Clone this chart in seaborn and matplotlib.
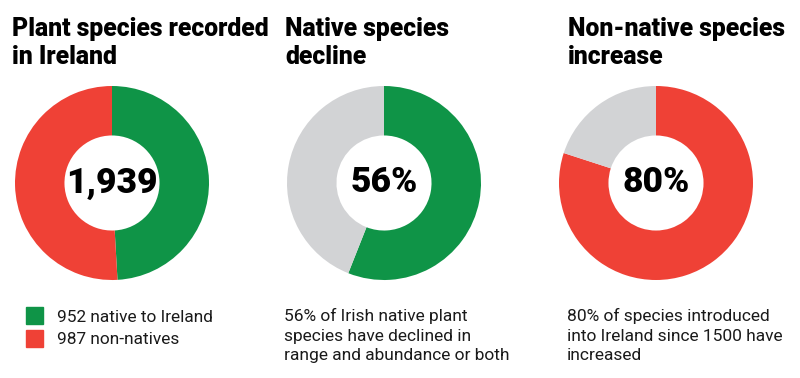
"""Irish plant species donut charts."""

import matplotlib.pyplot as plt
import seaborn as sns

sns.set_theme(style='white')
plt.rcParams['font.family'] = ['Roboto', 'DejaVu Sans']

GREEN = '#0f9447'
RED = '#ef4136'
GREY = '#d2d3d5'

# data
native_count = 952
nonnative_count = 987
native_declined_pct = 56
nonnative_increased_pct = 80

titles = [
    'Plant species recorded\nin Ireland',
    'Native species\ndecline',
    'Non-native species\nincrease',
]
centre_labels = [f'{native_count + nonnative_count:,}',
                 f'{native_declined_pct}%',
                 f'{nonnative_increased_pct}%']
legend_labels = [f'{native_count} native to Ireland',
                 f'{nonnative_count} non-natives']
captions = [
    '56% of Irish native plant\nspecies have declined in\nrange and abundance or both',
    '80% of species introduced\ninto Ireland since 1500 have\nincreased',
]

W, H = 800, 378
fig = plt.figure(figsize=(W / 100, H / 100), dpi=100)
fig.patch.set_facecolor('white')

donut_values = [
    [native_count, nonnative_count],
    [native_declined_pct, 100 - native_declined_pct],
    [nonnative_increased_pct, 100 - nonnative_increased_pct],
]
donut_colors = [[GREEN, RED], [GREEN, GREY], [RED, GREY]]
centres_x = [112, 384, 656]
radius_px = 97
title_x = [12, 285, 568]

for i in range(3):
    cx, cy = centres_x[i], 183
    ax = fig.add_axes([(cx - radius_px) / W, (H - cy - radius_px) / H,
                       2 * radius_px / W, 2 * radius_px / H])
    ax.pie(donut_values[i], colors=donut_colors[i], startangle=90,
           counterclock=False, radius=1,
           wedgeprops=dict(width=0.51, linewidth=0))
    ax.set_xlim(-1, 1)
    ax.set_ylim(-1, 1)
    ax.set_aspect('equal')
    ax.axis('off')
    ax.text(0, 0.0, centre_labels[i], ha='center', va='center',
            fontsize=25.5, fontweight='black', color='black')

    fig.text(title_x[i] / W, 1 - 17 / H, titles[i], ha='left', va='top',
             fontsize=17.8, fontweight='black', color='black',
             linespacing=1.22)

# legend for the first donut
for j, (lab, col) in enumerate(zip(legend_labels, [GREEN, RED])):
    y = 316 + j * 23
    fig.patches.append(plt.Rectangle((26 / W, 1 - (y + 8) / H), 17 / W, 17 / H,
                                     transform=fig.transFigure, color=col,
                                     figure=fig))
    fig.text(57 / W, 1 - (y + 1) / H, lab, ha='left', va='center',
             fontsize=12.4, color='#1a1a1a')

for x, cap in zip([284, 567], captions):
    fig.text(x / W, 1 - 308 / H, cap, ha='left', va='top',
             fontsize=12.5, color='#1a1a1a', linespacing=1.38)

fig.savefig('out.png', dpi=100, facecolor='white')
